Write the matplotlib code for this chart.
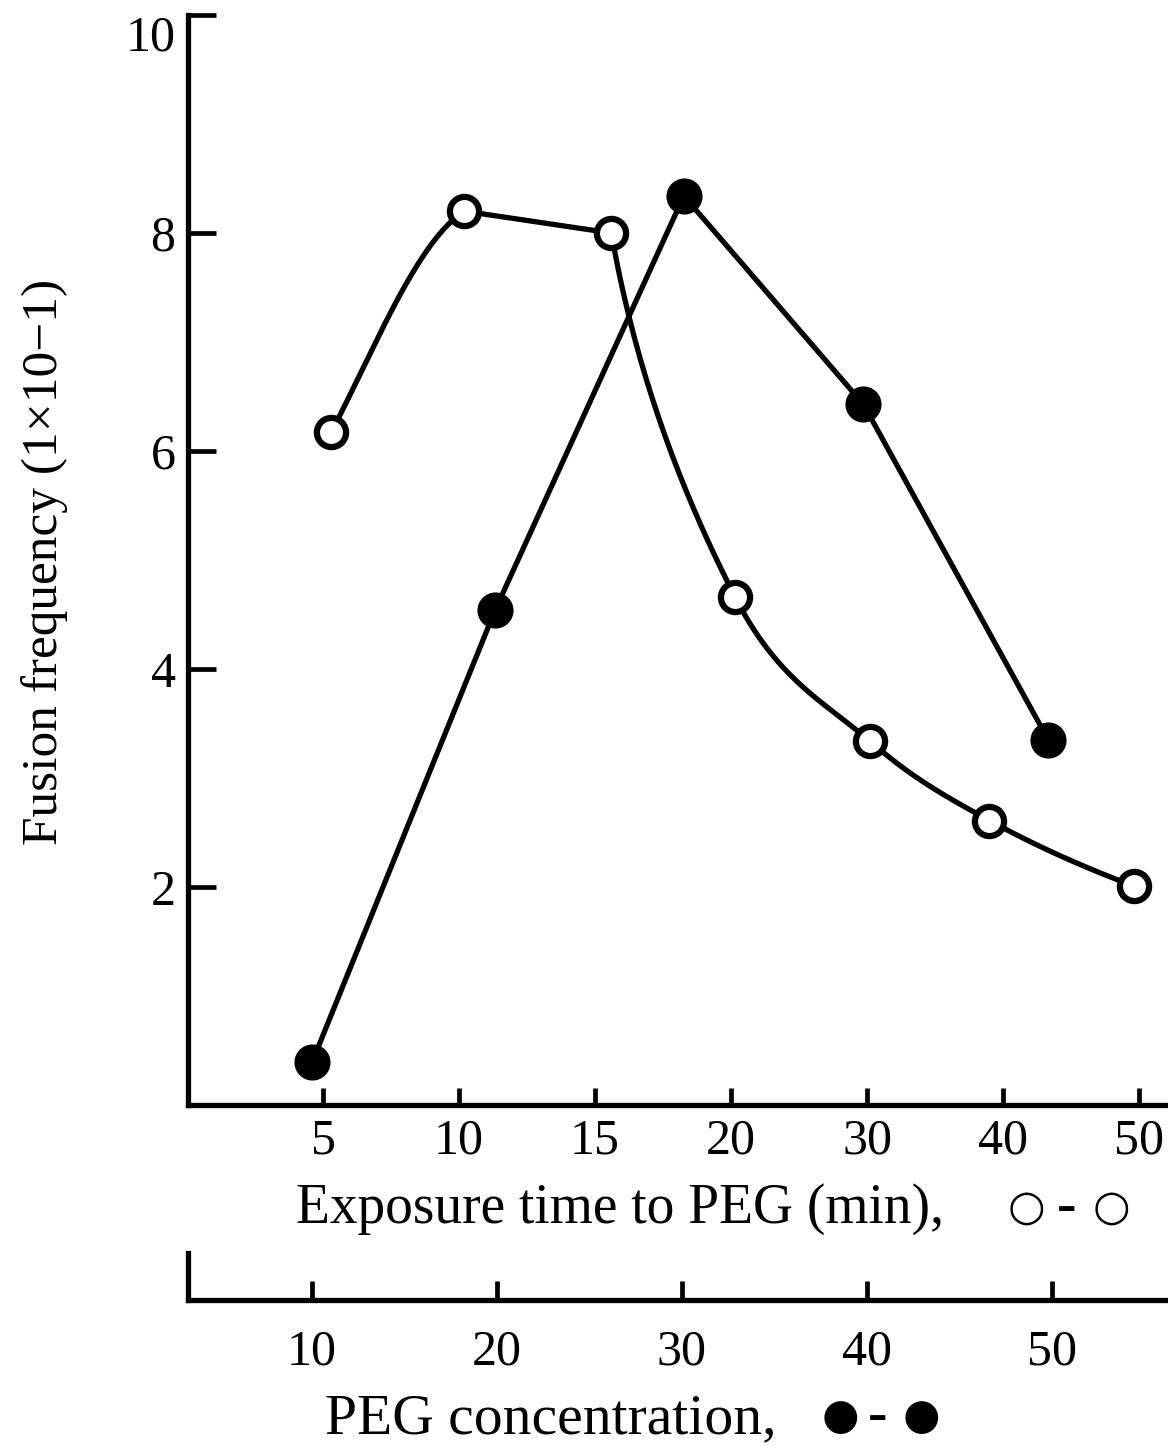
import numpy as np
import matplotlib
matplotlib.use("Agg")
import matplotlib.pyplot as plt
import matplotlib.transforms as mtransforms

# ---------------- data ----------------
exposure_ticks = [5, 10, 15, 20, 30, 40, 50]
exposure_time = [5.3, 10.2, 15.6, 20.3, 30.2, 39.0, 49.6]
fusion_exposure = [6.17, 8.20, 8.00, 4.66, 3.34, 2.61, 2.01]

conc_ticks = [10, 20, 30, 40, 50]
peg_conc = [10.0, 19.9, 30.1, 39.8, 49.8]
fusion_conc = [0.39, 4.54, 8.34, 6.43, 3.35]

y_ticks = [2, 4, 6, 8, 10]

SERIF = ["Liberation Serif", "DejaVu Serif"]
SYM = ["DejaVu Sans"]
plt.rcParams["font.family"] = SERIF

W, H = 1168, 1446
fig = plt.figure(figsize=(W / 100, H / 100), dpi=100)


def fx(px):
    return px / W


def fy(py):
    return 1 - py / H


LEFT, TOP, BOTTOM = 188, 15, 1105
rect = [fx(LEFT), fy(BOTTOM), 1 - fx(LEFT), fy(TOP) - fy(BOTTOM)]

# main axis: exposure time (ticks equally spaced)
ax = fig.add_axes(rect)
ax2 = fig.add_axes(rect, frameon=False)  # concentration scale for filled series

tick_idx = np.arange(len(exposure_ticks))
ax.set_xlim(-0.993, 6.213)
ax.set_ylim(0, 10)
ax2.set_xlim(3.30, 56.27)
ax2.set_ylim(0, 10)
ax2.axis("off")


def hermite(p0, p1, m0, m1, n=40):
    t = np.linspace(0, 1, n)[:, None]
    h00 = 2 * t**3 - 3 * t**2 + 1
    h10 = t**3 - 2 * t**2 + t
    h01 = -2 * t**3 + 3 * t**2
    h11 = t**3 - t**2
    return h00 * p0 + h10 * m0 + h01 * p1 + h11 * m1


# open-circle series (exposure time)
xo = np.interp(exposure_time, exposure_ticks, tick_idx)
P = np.column_stack([xo, fusion_exposure])
pieces = []
d01 = P[1] - P[0]
d12 = P[2] - P[1]
m1 = 0.45 * d01 + 0.55 * d12
m0 = 1.25 * d01 - 0.25 * m1
pieces.append(hermite(P[0], P[1], m0, m1))
pieces.append(np.vstack([P[1], P[2]]))
Q = P[2:]
tang = [None] * len(Q)
for i in range(1, len(Q) - 1):
    tang[i] = (Q[i + 1] - Q[i - 1]) / 2
tang[0] = 2 * (Q[1] - Q[0]) - tang[1]
tang[0] = tang[0] * np.array([0.7, 1.0])
tang[-1] = 2 * (Q[-1] - Q[-2]) - tang[-2]
for i in range(len(Q) - 1):
    pieces.append(hermite(Q[i], Q[i + 1], tang[i], tang[i + 1]))
curve = np.vstack(pieces)
ax.plot(curve[:, 0], curve[:, 1], color="black", lw=3.8, solid_capstyle="round", zorder=2)
ax.plot(xo, fusion_exposure, linestyle="none", marker="o", ms=21, mfc="white",
        mec="black", mew=4.5, zorder=3)

# filled-circle series (PEG concentration)
ax2.plot(peg_conc, fusion_conc, color="black", lw=3.8, zorder=2)
ax2.plot(peg_conc, fusion_conc, linestyle="none", marker="o", ms=25, mfc="black",
         mec="black", mew=1, zorder=3)

# styling of main axes
for s in ["top", "right"]:
    ax.spines[s].set_visible(False)
for s in ["left", "bottom"]:
    ax.spines[s].set_linewidth(3.8)
ax.set_xticks(tick_idx)
ax.set_xticklabels([str(v) for v in exposure_ticks])
ax.set_yticks(y_ticks)
ax.set_yticklabels([str(v) for v in y_ticks])
ax.tick_params(axis="y", direction="in", length=20, width=3.4, pad=9, labelsize=36)
ax.tick_params(axis="x", direction="in", length=12, width=3.4, pad=9, labelsize=36)
# the top label sits a little below its tick in the original
top_lab = ax.get_yticklabels()[-1]
top_lab.set_transform(top_lab.get_transform() +
                      mtransforms.ScaledTranslation(0, -18 / 100, fig.dpi_scale_trans))

# second (concentration) axis below
ax3 = fig.add_axes([fx(LEFT), fy(1300), 1 - fx(LEFT), 47 / H])
ax3.set_xlim(ax2.get_xlim())
ax3.set_ylim(0, 1)
ax3.patch.set_visible(False)
for s in ["top", "right"]:
    ax3.spines[s].set_visible(False)
for s in ["left", "bottom"]:
    ax3.spines[s].set_linewidth(3.8)
ax3.set_yticks([])
ax3.set_xticks(conc_ticks)
ax3.set_xticklabels([str(v) for v in conc_ticks])
ax3.tick_params(axis="x", direction="in", length=14, width=3.4, pad=21, labelsize=36)

# axis titles
fig.text(fx(296), fy(1223), "Exposure time to PEG (min),", ha="left", va="baseline",
         fontsize=40)
fig.text(fx(1026), fy(1208), "\u25CB", ha="center", va="center", fontsize=31, family=SYM)
fig.text(fx(1067), fy(1208), "\u2013", ha="center", va="center", fontsize=28,
         family=SYM, fontweight="bold")
fig.text(fx(1111), fy(1208), "\u25CB", ha="center", va="center", fontsize=31, family=SYM)

fig.text(fx(325), fy(1433), "PEG concentration,", ha="left", va="baseline", fontsize=41.5)
fig.text(fx(840), fy(1417), "\u25CF", ha="center", va="center", fontsize=31, family=SYM)
fig.text(fx(878), fy(1417), "\u2013", ha="center", va="center", fontsize=28,
         family=SYM, fontweight="bold")
fig.text(fx(921), fy(1417), "\u25CF", ha="center", va="center", fontsize=31, family=SYM)

fig.text(fx(45), fy(562), "Fusion frequency (1\u00D710\u22121)", rotation=90,
         ha="center", va="center", fontsize=37)

fig.savefig("out.png", dpi=100)
